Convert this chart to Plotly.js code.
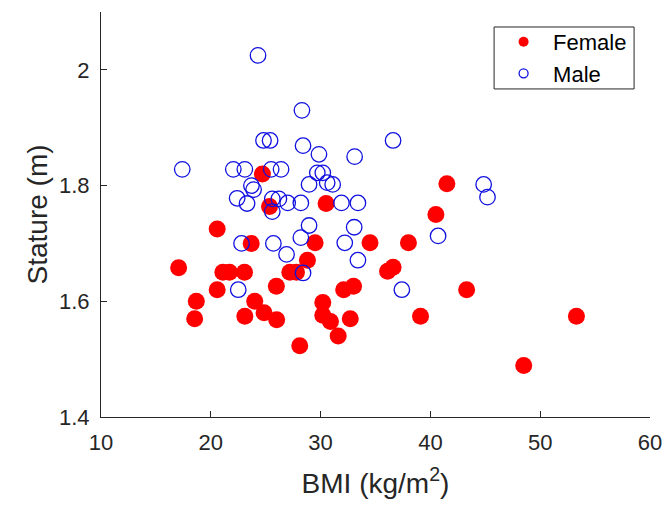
<!DOCTYPE html>
<html>
<head>
<meta charset="utf-8">
<script src="https://cdn.plot.ly/plotly-3.0.1.min.js"></script>
<style>html,body{margin:0;padding:0;background:#fff;}#chart{width:670px;height:505px;}</style>
</head>
<body>
<div id="chart"></div>
<script>
// Female (filled red)
const femaleBMI = [17.07, 18.68, 18.53, 20.58, 20.58, 21.1, 21.7, 23.07, 23.1, 23.68, 24.0, 24.85, 26.0, 25.97, 24.7, 25.35, 27.2, 27.8, 28.8, 29.5, 30.2, 30.2, 30.9, 31.6, 28.1, 30.5, 32.1, 33.0, 32.7, 34.5, 36.1, 36.6, 38.0, 39.1, 40.5, 41.5, 43.3, 48.5, 53.3];
const femaleStature = [1.658, 1.600, 1.570, 1.725, 1.620, 1.650, 1.650, 1.650, 1.574, 1.700, 1.600, 1.580, 1.568, 1.626, 1.820, 1.764, 1.650, 1.650, 1.671, 1.701, 1.598, 1.576, 1.565, 1.540, 1.523, 1.769, 1.620, 1.626, 1.570, 1.701, 1.652, 1.659, 1.701, 1.574, 1.750, 1.803, 1.620, 1.489, 1.574];
// Male (open blue)
const maleBMI = [24.3, 28.3, 24.8, 25.4, 28.4, 29.85, 33.1, 36.6, 17.4, 22.05, 23.1, 25.5, 26.4, 29.7, 30.2, 23.7, 23.9, 28.95, 30.6, 31.1, 22.4, 23.3, 25.6, 26.2, 27.0, 28.2, 31.9, 33.4, 25.6, 28.95, 33.06, 22.8, 25.7, 26.9, 28.2, 28.4, 32.2, 33.4, 22.5, 37.4, 40.7, 44.85, 45.2];
const maleStature = [2.025, 1.930, 1.878, 1.878, 1.869, 1.854, 1.850, 1.878, 1.828, 1.828, 1.828, 1.828, 1.828, 1.822, 1.822, 1.800, 1.793, 1.802, 1.805, 1.802, 1.778, 1.769, 1.777, 1.777, 1.770, 1.770, 1.770, 1.770, 1.755, 1.731, 1.728, 1.700, 1.700, 1.681, 1.710, 1.649, 1.701, 1.671, 1.620, 1.620, 1.713, 1.802, 1.780];

const xTicks = [10, 20, 30, 40, 50, 60];
const yTicks = [1.4, 1.6, 1.8, 2.0];
const yTickText = ['1.4', '1.6', '1.8', '2'];

const axisColor = '#262626';
const fontFam = 'Arial, "Liberation Sans", Helvetica, sans-serif';

const traces = [
  {x: femaleBMI, y: femaleStature, type: 'scatter', mode: 'markers', showlegend: false,
   marker: {symbol: 'circle', size: 17, color: '#ff0000', line: {width: 0}}},
  {x: maleBMI, y: maleStature, type: 'scatter', mode: 'markers', showlegend: false,
   marker: {symbol: 'circle-open', size: 15.5, color: '#1010e0', line: {width: 1.3, color: '#1010e0'}}},
  {x: [null], y: [null], type: 'scatter', mode: 'markers', name: 'Female',
   marker: {symbol: 'circle', size: 10, color: '#ff0000'}},
  {x: [null], y: [null], type: 'scatter', mode: 'markers', name: 'Male',
   marker: {symbol: 'circle-open', size: 9, color: '#1010e0', line: {width: 1.3}}}
];

const layout = {
  width: 670, height: 505,
  margin: {l: 101, r: 20, t: 12, b: 88},
  paper_bgcolor: '#fff', plot_bgcolor: '#fff',
  font: {family: fontFam, color: axisColor, size: 22},
  xaxis: {
    range: [10, 60], tickvals: xTicks, ticktext: xTicks.map(String),
    ticks: 'inside', ticklen: 6, tickcolor: axisColor, tickwidth: 1,
    showline: true, linecolor: axisColor, linewidth: 1, mirror: false,
    showgrid: false, zeroline: false, ticklabelstandoff: 6,
    tickfont: {size: 22, color: axisColor},
    title: {text: 'BMI (kg/m<sup>2</sup>)', font: {size: 28, color: axisColor}, standoff: 18}
  },
  yaxis: {
    range: [1.4, 2.1], tickvals: yTicks, ticktext: yTickText,
    ticks: 'inside', ticklen: 6, tickcolor: axisColor, tickwidth: 1,
    showline: true, linecolor: axisColor, linewidth: 1, mirror: false,
    showgrid: false, zeroline: false, ticklabelstandoff: 6,
    tickfont: {size: 22, color: axisColor},
    title: {text: 'Stature (m)', font: {size: 28, color: axisColor}, standoff: 3}
  },
  legend: {
    x: 0.716, y: 0.978, xanchor: 'left', yanchor: 'top',
    bgcolor: 'rgba(0,0,0,0)', borderwidth: 0,
    font: {size: 22, color: '#000'}, itemwidth: 49, tracegroupgap: 0
  },
  shapes: [{
    type: 'rect', xref: 'paper', yref: 'paper',
    x0: 0.716, x1: 0.971, y0: 0.81, y1: 0.963,
    line: {color: axisColor, width: 1}, fillcolor: '#fff', layer: 'below'
  }],
  showlegend: true
};

Plotly.newPlot('chart', traces, layout, {displayModeBar: false, staticPlot: true});
</script>
</body>
</html>
